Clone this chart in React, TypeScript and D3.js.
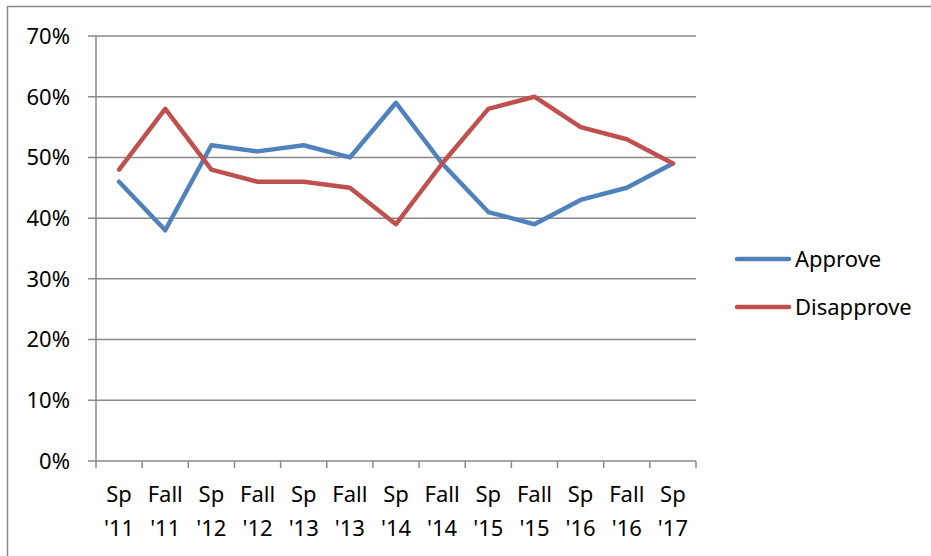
import React from 'react';
import * as d3 from 'd3';

const categories = [
  ["Sp", "'11"], ["Fall", "'11"], ["Sp", "'12"], ["Fall", "'12"], ["Sp", "'13"],
  ["Fall", "'13"], ["Sp", "'14"], ["Fall", "'14"], ["Sp", "'15"], ["Fall", "'15"],
  ["Sp", "'16"], ["Fall", "'16"], ["Sp", "'17"],
];
const approve = [46, 38, 52, 51, 52, 50, 59, 49, 41, 39, 43, 45, 49];
const disapprove = [48, 58, 48, 46, 46, 45, 39, 49, 58, 60, 55, 53, 49];
const yTicks = [0, 10, 20, 30, 40, 50, 60, 70];
const series = [
  { name: 'Approve', values: approve, color: '#4F81BD' },
  { name: 'Disapprove', values: disapprove, color: '#C0504D' },
];

export default function App() {
  const width = 931;
  const height = 556;
  const left = 96, right = 696, top = 36, bottom = 461;
  const font = '"Noto Sans", sans-serif';
  const fs = 22;
  const grid = '#898989';

  const x = d3.scaleBand<number>()
    .domain(d3.range(categories.length))
    .range([left, right]);
  const y = d3.scaleLinear().domain([0, 70]).range([bottom, top]);
  const line = d3.line<number>()
    .x((d, i) => (x(i) as number) + x.bandwidth() / 2)
    .y(d => y(d));

  // tick positions at band edges
  const edges = d3.range(categories.length + 1).map(i => left + i * x.step());

  return (
    <svg width={width} height={height} style={{ position: 'absolute', left: 0, top: 0 }}>
      <rect x={0} y={0} width={width} height={height} fill="#fff" />
      <rect x={7.5} y={6.5} width={width} height={height} fill="none" stroke={grid} strokeWidth={1.5} />

      {yTicks.map(t => (
        <g key={t}>
          <line x1={left - 8} x2={right} y1={y(t)} y2={y(t)} stroke={grid} strokeWidth={1.5} />
          <text x={70} y={y(t)} dy="0.36em" textAnchor="end" fontFamily={font} fontSize={fs} fill="#000">
            {t}%
          </text>
        </g>
      ))}
      <line x1={left} x2={left} y1={top} y2={bottom} stroke={grid} strokeWidth={1.5} />
      {edges.map((e, i) => (
        <line key={i} x1={e} x2={e} y1={bottom} y2={bottom + 7} stroke={grid} strokeWidth={1.5} />
      ))}

      {categories.map((c, i) => (
        <text key={i} x={(x(i) as number) + x.bandwidth() / 2} textAnchor="middle"
          fontFamily={font} fontSize={fs} fill="#000">
          <tspan x={(x(i) as number) + x.bandwidth() / 2} y={502}>{c[0]}</tspan>
          <tspan x={(x(i) as number) + x.bandwidth() / 2} y={536}>{c[1]}</tspan>
        </text>
      ))}

      {series.map(s => (
        <path key={s.name} d={line(s.values) || ''} fill="none" stroke={s.color}
          strokeWidth={4.5} strokeLinejoin="round" strokeLinecap="round" />
      ))}

      {series.map((s, i) => (
        <g key={s.name} transform={`translate(0, ${259 + i * 48})`}>
          <line x1={737} x2={789} y1={0} y2={0} stroke={s.color} strokeWidth={4.5} strokeLinecap="round" />
          <text x={795} y={0} dy="0.36em" fontFamily={font} fontSize={fs} fill="#000">{s.name}</text>
        </g>
      ))}
    </svg>
  );
}
